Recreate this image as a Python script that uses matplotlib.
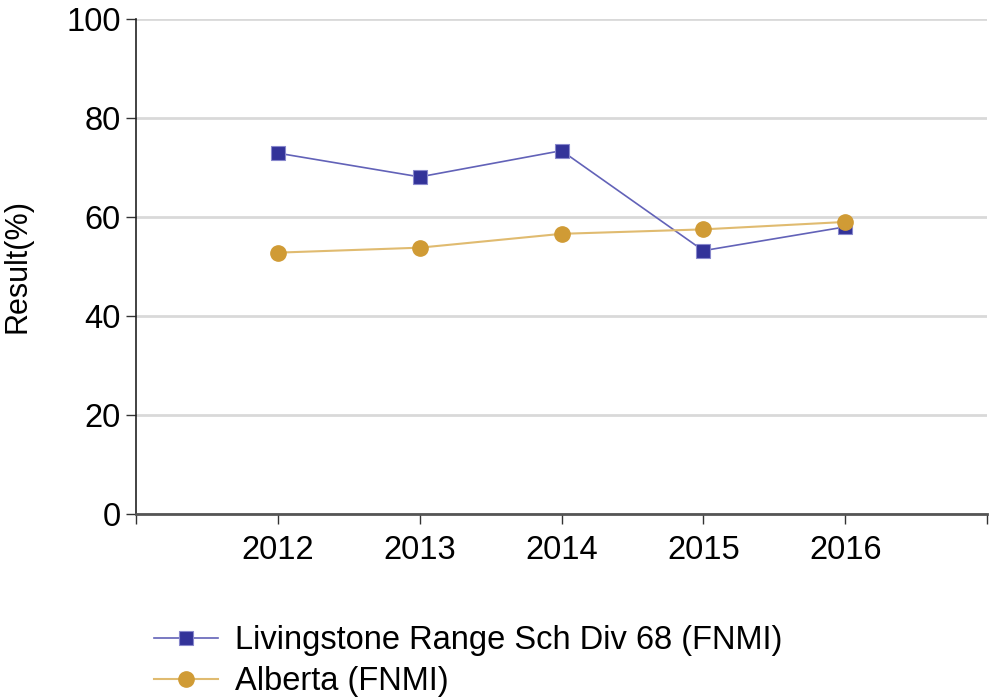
import matplotlib.pyplot as plt
import numpy as np

plt.rcParams['font.family'] = ['Liberation Sans', 'DejaVu Sans']

# datos
anios = [2012, 2013, 2014, 2015, 2016]
livingstone = [72.9, 68.1, 73.4, 53.2, 58.0]
alberta = [52.8, 53.8, 56.6, 57.5, 59.0]
etiquetas = ['Livingstone Range Sch Div 68 (FNMI)', 'Alberta (FNMI)']

azul = '#333399'
dorado = '#D09B35'

fig = plt.figure(figsize=(9.9, 6.98), dpi=100)
ax = fig.add_axes([0.1374, 0.2636, 0.8596, 0.7092])

ax.plot(anios, livingstone, color='#6262b8', lw=1.2, marker='s', ms=10,
        markerfacecolor=azul, markeredgecolor='#8888cc', markeredgewidth=0.8,
        label=etiquetas[0], zorder=3)
ax.plot(anios, alberta, color='#e0bb70', lw=1.5, marker='o', ms=11,
        markerfacecolor=dorado, markeredgecolor=dorado,
        label=etiquetas[1], zorder=4)

ax.set_xlim(2011, 2017)
ax.set_ylim(0, 100)
ax.set_xticks(range(2011, 2018))
ax.set_xticklabels([''] + [str(a) for a in anios] + [''])
ax.set_yticks([0, 20, 40, 60, 80, 100])
ax.yaxis.grid(True, color='#d9d9d9', lw=2)
ax.set_axisbelow(True)

for s in ['top', 'right']:
    ax.spines[s].set_visible(False)
ax.spines['left'].set_color('#222222')
ax.spines['left'].set_linewidth(1.2)
ax.spines['bottom'].set_color('#555555')
ax.spines['bottom'].set_linewidth(2)

ax.tick_params(axis='both', direction='out', length=7, width=1, color='#333333',
               labelsize=23.5, pad=8)
ax.tick_params(axis='y', pad=4)
ax.set_ylabel('Result(%)', fontsize=22)
ax.yaxis.set_label_coords(-0.122, 0.5)

fig.legend(loc='upper left', bbox_to_anchor=(0.1556, 0.104), frameon=False,
           fontsize=23.5, handlelength=1.95, handletextpad=0.52, labelspacing=0.3,
           borderaxespad=0, borderpad=0)

fig.savefig('out.png', dpi=100)
